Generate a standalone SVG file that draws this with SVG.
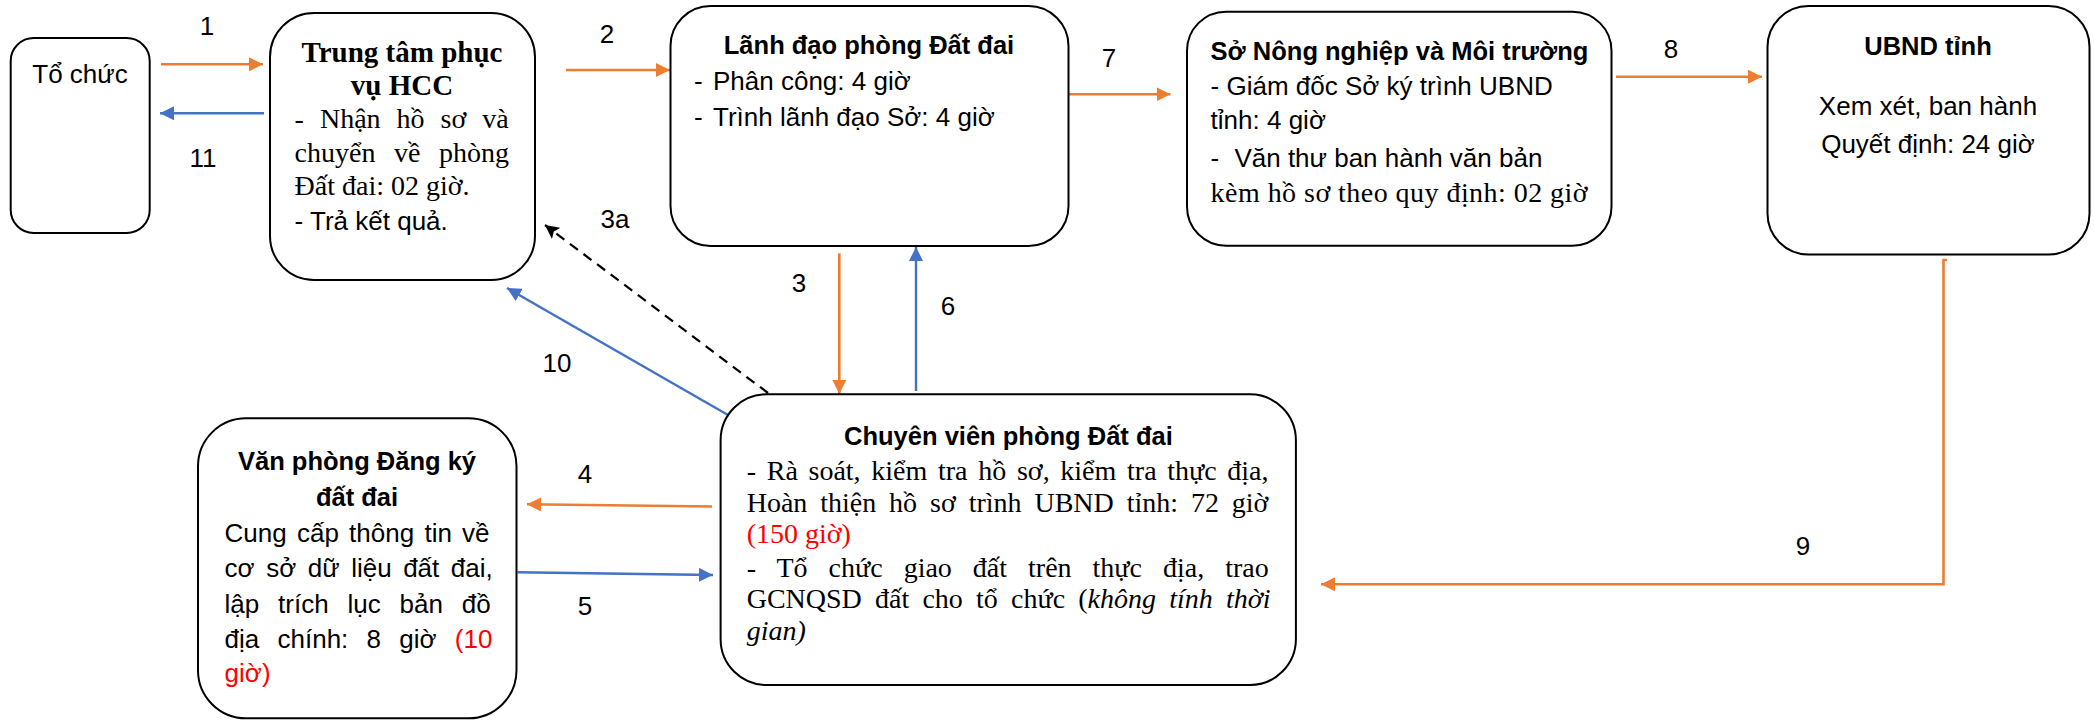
<svg xmlns="http://www.w3.org/2000/svg" width="2094" height="721" viewBox="0 0 2094 721">
<style>
.box{fill:#fff;stroke:#000;stroke-width:2}
.s{font-family:"Liberation Sans",Arial,sans-serif;font-size:26px;fill:#000}
.sb{font-family:"Liberation Sans",Arial,sans-serif;font-size:25.5px;font-weight:bold;fill:#000}
.r{font-family:"Liberation Serif","Times New Roman",serif;font-size:28px;fill:#000}
.rb{font-family:"Liberation Serif","Times New Roman",serif;font-size:29px;font-weight:bold;fill:#000}
.red{fill:#FF0000}
.it{font-style:italic}
.c{text-anchor:middle}
.lbl{font-family:"Liberation Sans",Arial,sans-serif;font-size:26px;fill:#000;text-anchor:middle}
.o{fill:none;stroke:#ED7D31;stroke-width:2.6}
.b{fill:none;stroke:#4472C4;stroke-width:2.4}
.d{fill:none;stroke:#000;stroke-width:2.2;stroke-dasharray:10 7}
</style>
<defs>
<marker id="ao" viewBox="0 0 14 14" refX="14" refY="7" markerWidth="14" markerHeight="14" markerUnits="userSpaceOnUse" orient="auto"><path d="M0,0 L14,7 L0,14 z" fill="#ED7D31"/></marker>
<marker id="ab" viewBox="0 0 14 14" refX="14" refY="7" markerWidth="14" markerHeight="14" markerUnits="userSpaceOnUse" orient="auto"><path d="M0,0 L14,7 L0,14 z" fill="#4472C4"/></marker>
<marker id="ak" viewBox="0 0 14 14" refX="14" refY="7" markerWidth="14" markerHeight="14" markerUnits="userSpaceOnUse" orient="auto"><path d="M0,0 L14,7 L0,14 L3,7 z" fill="#000"/></marker>
</defs>
<rect width="2094" height="721" fill="#fff"/>

<g id="connectors">
<path class="o" d="M161,64.3 L263,64.3" marker-end="url(#ao)"/>
<path class="b" d="M264,113.3 L160,113.3" marker-end="url(#ab)"/>
<path class="o" d="M566,70 L670,70" marker-end="url(#ao)"/>
<path class="o" d="M1069,94.3 L1170.5,94.3" marker-end="url(#ao)"/>
<path class="o" d="M1616,76.7 L1762,76.7" marker-end="url(#ao)"/>
<path class="o" d="M839.3,253.3 L839.3,394" marker-end="url(#ao)"/>
<path class="b" d="M916,391 L916,247" marker-end="url(#ab)"/>
<path class="d" d="M768,393 L545,225" marker-end="url(#ak)"/>
<path class="b" d="M728,415 L507,288" marker-end="url(#ab)"/>
<path class="o" d="M712,506.5 L527,504.3" marker-end="url(#ao)"/>
<path class="b" d="M517.5,572.3 L713,575" marker-end="url(#ab)"/>
<path class="o" d="M1947,260 L1943.5,260 L1943.5,584.3 L1321,584.3" marker-end="url(#ao)"/>
<text class="lbl" x="207" y="35">1</text>
<text class="lbl" x="203" y="167">11</text>
<text class="lbl" x="607" y="43">2</text>
<text class="lbl" x="1109" y="67">7</text>
<text class="lbl" x="1671" y="58">8</text>
<text class="lbl" x="615" y="228">3a</text>
<text class="lbl" x="799" y="292">3</text>
<text class="lbl" x="948" y="315">6</text>
<text class="lbl" x="557" y="372">10</text>
<text class="lbl" x="585" y="483">4</text>
<text class="lbl" x="585" y="615">5</text>
<text class="lbl" x="1803" y="555">9</text>
</g>

<g id="to-chuc">
<rect class="box" x="10.7" y="38" width="139" height="195" rx="23"/>
<text class="s c" x="80" y="82.7">Tổ chức</text>
</g>

<g id="trung-tam-hcc">
<rect class="box" x="270" y="13" width="265" height="267" rx="44"/>
<text class="rb c" x="402" y="61.7">Trung tâm phục</text>
<text class="rb c" x="402" y="95">vụ HCC</text>
<text class="r" x="294.6" y="128" word-spacing="9">- Nhận hồ sơ và</text>
<text class="r" x="294.6" y="162" word-spacing="11.5">chuyển về phòng</text>
<text class="r" x="294.6" y="195">Đất đai: 02 giờ.</text>
<text class="s" x="294.6" y="230">- Trả kết quả.</text>
</g>

<g id="lanh-dao-phong">
<rect class="box" x="670.5" y="6" width="398" height="240" rx="40"/>
<text class="sb c" x="869" y="54">Lãnh đạo phòng Đất đai</text>
<text class="s" y="90"><tspan x="694">-</tspan><tspan x="713">Phân công: 4 giờ</tspan></text>
<text class="s" y="126"><tspan x="694">-</tspan><tspan x="713">Trình lãnh đạo Sở: 4 giờ</tspan></text>
</g>

<g id="so-nn-mt">
<rect class="box" x="1187" y="11.7" width="424.5" height="234" rx="39"/>
<text class="sb" x="1210.6" y="60">Sở Nông nghiệp và Môi trường</text>
<text class="s" x="1210.6" y="95">- Giám đốc Sở ký trình UBND</text>
<text class="s" x="1210.6" y="129">tỉnh: 4 giờ</text>
<text class="s" y="166.7"><tspan x="1210.6">-</tspan><tspan x="1234.4">Văn thư ban hành văn bản</tspan></text>
<text class="r" x="1210.6" y="201.7" textLength="377" lengthAdjust="spacing">kèm hồ sơ theo quy định: 02 giờ</text>
</g>

<g id="ubnd-tinh">
<rect class="box" x="1767.5" y="6" width="322" height="248.5" rx="41"/>
<text class="sb c" x="1928" y="55">UBND tỉnh</text>
<text class="s c" x="1928" y="115">Xem xét, ban hành</text>
<text class="s c" x="1928" y="153.3">Quyết định: 24 giờ</text>
</g>

<g id="van-phong-dang-ky">
<rect class="box" x="198" y="418.3" width="318.5" height="300" rx="48"/>
<text class="sb c" x="357" y="470">Văn phòng Đăng ký</text>
<text class="sb c" x="357" y="506">đất đai</text>
<text class="s" x="224.6" y="541.7" word-spacing="3">Cung cấp thông tin về</text>
<text class="s" x="224.6" y="576.7" word-spacing="4.3">cơ sở dữ liệu đất đai,</text>
<text class="s" x="224.6" y="613.3" word-spacing="11.6">lập trích lục bản đồ</text>
<text class="s" x="224.6" y="648.3" word-spacing="11">địa chính: 8 giờ <tspan class="red">(10</tspan></text>
<text class="s red" x="224.6" y="681.7">giờ)</text>
</g>

<g id="chuyen-vien-phong">
<rect class="box" x="720.6" y="394.3" width="575.3" height="290.7" rx="46"/>
<text class="sb c" x="1008.4" y="445">Chuyên viên phòng Đất đai</text>
<text class="r" x="746.7" y="480" word-spacing="3.7">- Rà soát, kiểm tra hồ sơ, kiểm tra thực địa,</text>
<text class="r" x="746.7" y="511.7" word-spacing="5.9">Hoàn thiện hồ sơ trình UBND tỉnh: 72 giờ</text>
<text class="r red" x="746.7" y="543.3">(150 giờ)</text>
<text class="r" x="746.7" y="576.7" word-spacing="14">- Tổ chức giao đất trên thực địa, trao</text>
<text class="r" x="746.7" y="608.3" word-spacing="6.2">GCNQSD đất cho tổ chức (<tspan class="it">không tính thời</tspan></text>
<text class="r it" x="746.7" y="640">gian)</text>
</g>
</svg>
